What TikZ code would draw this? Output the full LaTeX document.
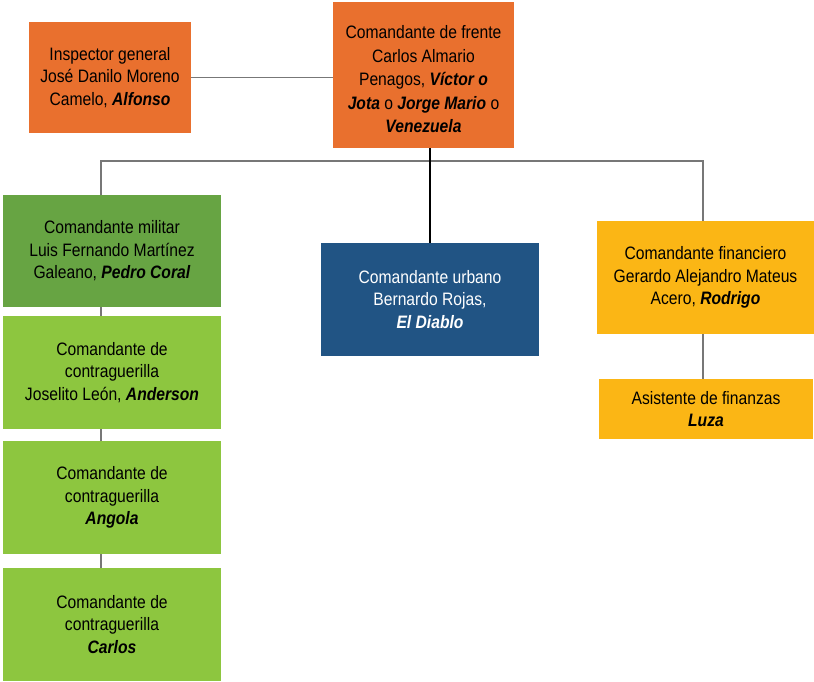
\documentclass[tikz,border=0pt]{standalone}
\usepackage{fontspec}
\setmainfont{Liberation Sans}[FakeStretch=0.87]
\definecolor{cOrange}{HTML}{E9702E}
\definecolor{cDkGreen}{HTML}{67A443}
\definecolor{cLtGreen}{HTML}{8DC63F}
\definecolor{cBlue}{HTML}{215484}
\definecolor{cYellow}{HTML}{FBB615}
\definecolor{cLine}{HTML}{777777}
\newcommand{\bi}[1]{\textbf{\textit{#1}}}
\begin{document}
\begin{tikzpicture}[x=1pt,y=-1pt,
  box/.style={inner sep=0pt, align=center, text=black,
    font=\fontsize{18}{22.5}\selectfont},
  gline/.style={draw=cLine, line width=1.1pt},
  kline/.style={draw=black, line width=1.1pt}]
\useasboundingbox (0,0) rectangle (814,681);
\fill[white] (0,0) rectangle (814,681);
% nodes
\node[box, fill=cOrange, minimum width=162pt, minimum height=111pt] (insp) at (110,77.5)
  {Inspector general\\José Danilo Moreno\\Camelo, \bi{Alfonso}};
\node[box, fill=cOrange, minimum width=181pt, minimum height=146pt] (frente) at (423.5,75) {};
\node[box, font=\fontsize{18}{23.5}\selectfont] (frentetxt) at (423.5,79.5)
  {Comandante de frente\\Carlos Almario\\Penagos, \bi{Víctor o}\\\bi{Jota} o \bi{Jorge Mario} o\\\bi{Venezuela}};
\node[box, fill=cDkGreen, minimum width=218pt, minimum height=112pt] (mil) at (112,251)
  {Comandante militar\\Luis Fernando Martínez\\Galeano, \bi{Pedro Coral}};
\node[box, fill=cLtGreen, minimum width=218pt, minimum height=113pt] (cg1) at (112,372.5)
  {Comandante de\\contraguerilla\\Joselito León, \bi{Anderson}};
\node[box, fill=cLtGreen, minimum width=218pt, minimum height=113pt] (cg2) at (112,497.5)
  {Comandante de\\contraguerilla\\\bi{Angola}};
\node[box, fill=cLtGreen, minimum width=218pt, minimum height=113pt] (cg3) at (112,624.5)
  {Comandante de\\contraguerilla\\\bi{Carlos}};
\node[box, fill=cBlue, text=white, minimum width=218pt, minimum height=113pt] (urb) at (430,299.5)
  {Comandante urbano\\Bernardo Rojas,\\\bi{El Diablo}};
\node[box, fill=cYellow, minimum width=217pt, minimum height=113pt] (fin) at (705.5,277.5)
  {Comandante financiero\\Gerardo Alejandro Mateus\\Acero, \bi{Rodrigo}};
\node[box, fill=cYellow, minimum width=214pt, minimum height=60pt] (asis) at (706,409)
  {Asistente de finanzas\\\bi{Luza}};
% connectors
\coordinate (hl) at (101,161);
\coordinate (hr) at (703,161);
\draw[gline] (insp.east) -- (insp.east -| frente.west);
\draw[gline] (mil.north -| hl) -- (hl) -- (hr) -- (fin.north -| hr);
\draw[kline] (urb.north) -- (urb.north |- frente.south);
\draw[gline] (mil.south -| hl) -- (cg1.north -| hl);
\draw[gline] (cg1.south -| hl) -- (cg2.north -| hl);
\draw[gline] (cg2.south -| hl) -- (cg3.north -| hl);
\draw[gline] (fin.south -| hr) -- (asis.north -| hr);
\end{tikzpicture}
\end{document}
